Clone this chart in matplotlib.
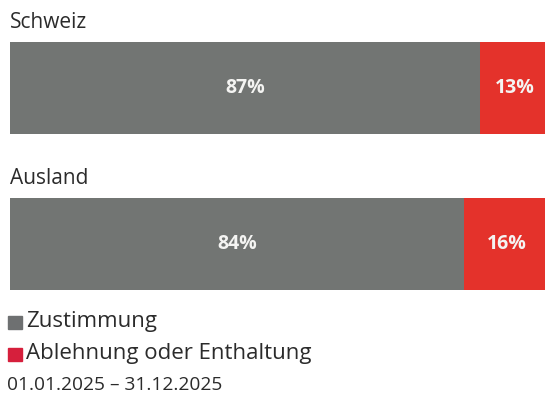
import matplotlib
matplotlib.use('Agg')
import matplotlib.pyplot as plt

# ── Data ────────────────────────────────────────────────────
regions = ['Schweiz', 'Ausland']
zustimmung = [87, 84]
ablehnung = [13, 16]
series_names = ['Zustimmung', 'Ablehnung oder Enthaltung']
period = '01.01.2025 – 31.12.2025'

GRAY = '#727573'
RED = '#e4322b'
LEGEND_GRAY = '#6e7071'
LEGEND_RED = '#d61f3c'
TEXT = '#2b2b2b'

plt.rcParams['font.family'] = ['Open Sans', 'DejaVu Sans']

W, H = 545, 403
fig = plt.figure(figsize=(W / 100, H / 100), dpi=100)

# axes spans both bars; bars are cut at the right edge of the image
left_px, right_px = 10, 545
top_px, bottom_px = 42, 290
ax = fig.add_axes([left_px / W, 1 - bottom_px / H,
                   (right_px - left_px) / W, (bottom_px - top_px) / H])

ypos = [0, 1]
bar_h = 0.59
ax.barh(ypos, zustimmung, height=bar_h, color=GRAY, linewidth=0)
ax.barh(ypos, ablehnung, left=zustimmung, height=bar_h, color=RED, linewidth=0)

ax.set_xlim(0, 99.07)
ax.set_ylim(1 + bar_h / 2, -bar_h / 2)
ax.axis('off')

for y, z, a, name in zip(ypos, zustimmung, ablehnung, regions):
    ax.text(z / 2, y, f'{z}%', ha='center', va='center', color='#f4f4f2',
            fontsize=14, fontweight='bold')
    ax.text(z + a / 2, y, f'{a}%', ha='center', va='center', color='#f4f4f2',
            fontsize=14, fontweight='bold')
    ax.text(0, y - bar_h / 2 - 0.06, name, ha='left', va='bottom',
            color=TEXT, fontsize=15)

# ── Legend ──────────────────────────────────────────────────
for i, (label, col) in enumerate(zip(series_names, [LEGEND_GRAY, LEGEND_RED])):
    yc = 1 - (322 + i * 32) / H
    fig.patches.append(plt.Rectangle((8 / W, yc - 6.5 / H), 14 / W, 13 / H,
                                     transform=fig.transFigure, color=col,
                                     figure=fig))
    fig.text(26 / W, yc, label, ha='left', va='center', color=TEXT, fontsize=16)

fig.text(7 / W, 1 - 385 / H, period, ha='left', va='center', color=TEXT,
         fontsize=13.8)

fig.savefig('out.png', dpi=100, facecolor='white')
